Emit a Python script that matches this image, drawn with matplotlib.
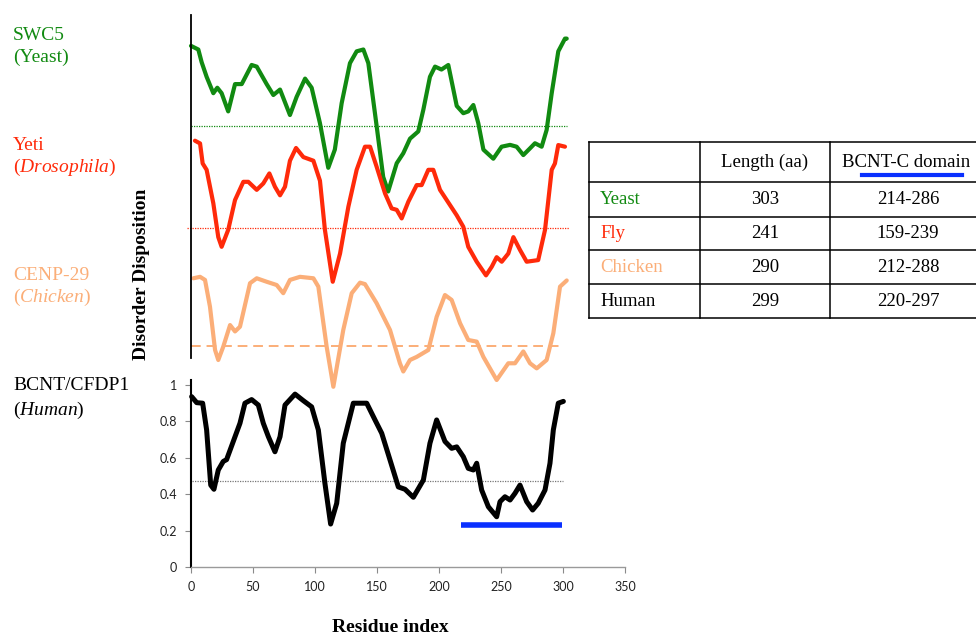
import matplotlib
matplotlib.use("Agg")
import matplotlib.pyplot as plt
from matplotlib.lines import Line2D

plt.rcParams['mathtext.fontset'] = 'custom'
plt.rcParams['mathtext.rm'] = 'Liberation Serif'
plt.rcParams['mathtext.it'] = 'Liberation Serif:italic'

# ---------------- data ----------------
yeast_res = [0, 5.9, 8.6, 12.6, 18, 21.2, 24.7, 30, 35.5, 40.9, 48.9, 53, 61, 66.4, 71.8, 79.8, 85.2, 92, 97.3, 104,
             110.7, 116, 121.5, 128.2, 133.6, 139, 143, 149.7, 155, 159, 165.9, 171.2, 176.6, 183.3, 187.4, 192.7,
             196.8, 202, 207.5, 214.3, 219.6, 223.6, 227.7, 231.7, 235.8, 243.8, 250.5, 257.3, 262.6, 268, 273.4,
             277.4, 282.8, 286.8, 290.9, 296.2, 301.6, 303]
yeast_val = [0.94, 0.92, 0.85, 0.77, 0.68, 0.71, 0.68, 0.58, 0.73, 0.73, 0.835, 0.826, 0.73, 0.67, 0.70, 0.56, 0.66,
             0.76, 0.71, 0.515, 0.27, 0.37, 0.625, 0.845, 0.91, 0.92, 0.845, 0.50, 0.22, 0.14, 0.295, 0.35, 0.43,
             0.47, 0.59, 0.77, 0.826, 0.81, 0.835, 0.61, 0.57, 0.58, 0.615, 0.515, 0.37, 0.32, 0.386, 0.396, 0.386,
             0.34, 0.377, 0.405, 0.386, 0.478, 0.68, 0.91, 0.98, 0.98]

fly_res = [3.2, 7.3, 9.4, 12.6, 18, 22, 24.7, 30, 35.5, 42.2, 46.2, 53, 58.3, 63.2, 67.7, 71.8, 75.8, 79.8, 84.7, 90.6,
           98.7, 104, 108, 114.3, 120.2, 126.9, 133.6, 140.3, 144.4, 149.7, 156.5, 161.8, 165.9, 169.9, 175.3, 182,
           186, 191.4, 195.4, 200.8, 206.2, 214.3, 219.6, 223.6, 230.4, 237.9, 242.5, 246.5, 250.6, 255.9, 260,
           265.3, 270.7, 280, 285.5, 290.9, 293.5, 296.2, 301.6]
fly_val = [0.98, 0.965, 0.855, 0.82, 0.636, 0.45, 0.397, 0.49, 0.654, 0.754, 0.754, 0.71, 0.745, 0.80, 0.727, 0.68,
           0.727, 0.87, 0.94, 0.89, 0.87, 0.76, 0.49, 0.205, 0.36, 0.617, 0.82, 0.947, 0.947, 0.837, 0.69, 0.608,
           0.6, 0.553, 0.645, 0.736, 0.736, 0.82, 0.82, 0.71, 0.654, 0.57, 0.507, 0.397, 0.315, 0.24, 0.287, 0.34,
           0.315, 0.36, 0.45, 0.38, 0.315, 0.324, 0.49, 0.82, 0.855, 0.956, 0.947]

chicken_res = [1.9, 7.3, 11.3, 15.3, 19.4, 22, 26, 31.5, 35.5, 39.5, 47.6, 53, 61, 69.1, 74.4, 79.8, 87.9, 98.7, 102.7,
               109.4, 114.8, 122.8, 129.6, 136.3, 140.3, 149.7, 160.5, 168.5, 171.2, 176.6, 182, 191.4, 198.1, 204.8,
               210.2, 217, 223.6, 230.4, 235.8, 246.5, 255.9, 261.3, 268, 273.4, 278.8, 286.8, 292.2, 297.6, 303]
chicken_val = [0.872, 0.88, 0.863, 0.716, 0.478, 0.423, 0.496, 0.615, 0.58, 0.606, 0.845, 0.872, 0.853, 0.835, 0.79,
               0.863, 0.88, 0.872, 0.826, 0.496, 0.276, 0.588, 0.79, 0.848, 0.84, 0.735, 0.588, 0.405, 0.36, 0.423,
               0.44, 0.478, 0.66, 0.78, 0.753, 0.625, 0.533, 0.524, 0.44, 0.313, 0.405, 0.405, 0.47, 0.405, 0.377,
               0.423, 0.57, 0.826, 0.86]

human_res = [0.5, 4.6, 9.4, 12.6, 15.9, 18.5, 22, 26, 28.7, 34.1, 39.5, 43.5, 48.9, 54.3, 58.3, 62.4, 67.7, 71.8, 75.8,
             83.9, 90.6, 97.3, 102.7, 108, 112.6, 117.5, 122.8, 130.9, 141.7, 148.4, 153.8, 160.5, 167.2, 172.6,
             179.3, 187.4, 192.7, 198.1, 204.8, 210.2, 214.3, 219.6, 223.6, 227.7, 230.4, 234.4, 239.8, 246.5, 249.2,
             253.2, 257.3, 261.3, 265.3, 270.7, 275.5, 280, 285.5, 289.5, 292.2, 296.2, 300.3]
human_val = [0.936, 0.903, 0.9, 0.753, 0.45, 0.427, 0.533, 0.58, 0.59, 0.69, 0.79, 0.9, 0.92, 0.89, 0.79, 0.716, 0.633,
             0.716, 0.89, 0.95, 0.914, 0.88, 0.753, 0.46, 0.236, 0.35, 0.68, 0.9, 0.9, 0.808, 0.735, 0.588, 0.44,
             0.427, 0.383, 0.478, 0.68, 0.808, 0.69, 0.652, 0.66, 0.606, 0.542, 0.533, 0.57, 0.423, 0.331, 0.276,
             0.359, 0.386, 0.368, 0.405, 0.45, 0.359, 0.313, 0.35, 0.423, 0.57, 0.753, 0.9, 0.91]

thresholds = {'yeast': 0.5, 'fly': 0.5, 'chicken': 0.5, 'human': 0.475}
threshold_span = [0, 303]
bcnt_domain_human = [218, 299]
bcnt_bar_level = 0.23

table_species = ['Yeast', 'Fly', 'Chicken', 'Human']
table_length = ['303', '241', '290', '299']
table_domain = ['214-286', '159-239', '212-288', '220-297']
table_header = ['', 'Length (aa)', 'BCNT-C domain']

x_ticks = [0, 50, 100, 150, 200, 250, 300, 350]
y_ticks = [0, 0.2, 0.4, 0.6, 0.8, 1]
y_tick_labels = ['0', '0.2', '0.4', '0.6', '0.8', '1']

# ---------------- styles ----------------
GREEN = '#118a11'
RED = '#ff2a0a'
ORANGE = '#fbae78'
BLACK = '#000000'
BLUE = '#0a30ff'
SERIF = 'Liberation Serif'

W, H = 976, 635
fig = plt.figure(figsize=(W / 100, H / 100), dpi=100)

def fx(px):
    return px / W

def fy(py):
    return 1 - py / H

# offsets (in disorder units) of the stacked profiles in the top panel
offsets = {'yeast': 0.775, 'fly': 0.214, 'chicken': -0.434}

# top panel
ax_top = fig.add_axes([fx(191), fy(358), fx(625) - fx(191), fy(15) - fy(358)])
ax_top.set_xlim(0, 350)
ax_top.set_ylim(0, 343 / 182)
for s in ['top', 'right', 'bottom']:
    ax_top.spines[s].set_visible(False)
ax_top.spines['left'].set_linewidth(1.3)
ax_top.set_xticks([])
ax_top.set_yticks([])
ax_top.patch.set_alpha(0)

def shifted(vals, off):
    return [v + off for v in vals]

# thresholds
ax_top.plot(threshold_span, [thresholds['yeast'] + offsets['yeast']] * 2, color=GREEN, lw=0.9, ls=(0, (1, 1)), clip_on=False)
ax_top.plot([-3, 305], [thresholds['fly'] + offsets['fly']] * 2, color=RED, lw=0.9, ls=(0, (1, 1)), clip_on=False)
ax_top.plot([0, 300], [thresholds['chicken'] + offsets['chicken']] * 2, color=ORANGE, lw=1.4, ls=(0, (5, 3)), clip_on=False)

ax_top.plot(yeast_res, shifted(yeast_val, offsets['yeast']), color=GREEN, lw=3.0, clip_on=False, solid_joinstyle='round', solid_capstyle='round')
ax_top.plot(fly_res, shifted(fly_val, offsets['fly']), color=RED, lw=3.0, clip_on=False, solid_joinstyle='round', solid_capstyle='round')
ax_top.plot(chicken_res, shifted(chicken_val, offsets['chicken']), color=ORANGE, lw=3.0, clip_on=False, solid_joinstyle='round', solid_capstyle='round')

# bottom panel (human)
ax = fig.add_axes([fx(191), fy(567), fx(625) - fx(191), fy(380) - fy(567)])
ax.set_xlim(0, 350)
ax.set_ylim(0, 187 / 182)
ax.spines['top'].set_visible(False)
ax.spines['right'].set_visible(False)
ax.spines['left'].set_linewidth(1.5)
ax.spines['bottom'].set_color('#9a9a9a')
ax.spines['bottom'].set_linewidth(1.0)
ax.patch.set_alpha(0)
ax.set_xticks(x_ticks)
ax.set_xticklabels([str(t) for t in x_ticks])
ax.set_yticks(y_ticks)
ax.set_yticklabels(y_tick_labels)
ax.tick_params(axis='both', colors='#8a8a8a', labelcolor='#222222', labelsize=9, length=4, width=0.8, direction='out')
ax.tick_params(axis='x', pad=6)
ax.tick_params(axis='y', pad=6)
for lab in ax.get_xticklabels() + ax.get_yticklabels():
    lab.set_fontfamily('Lato')

ax.plot([0.5, 300], [thresholds['human']] * 2, color='#777777', lw=0.9, ls=(0, (1, 1)))
ax.plot(human_res, human_val, color=BLACK, lw=3.6, solid_joinstyle='round', solid_capstyle='round', clip_on=False)
ax.plot(bcnt_domain_human, [bcnt_bar_level] * 2, color=BLUE, lw=4.0, solid_capstyle='butt')

# axis titles
fig.text(fx(141), fy(274), 'Disorder Disposition', rotation=90, ha='center', va='center',
         family=SERIF, fontweight='bold', fontsize=14)
fig.text(fx(390), fy(627), 'Residue index', ha='center', va='center',
         family=SERIF, fontweight='bold', fontsize=14)

# left labels
lab_fs = 14
fig.text(fx(13), fy(40), 'SWC5', color=GREEN, family=SERIF, fontsize=lab_fs, va='baseline')
fig.text(fx(13), fy(62), '(Yeast)', color=GREEN, family=SERIF, fontsize=lab_fs, va='baseline')
fig.text(fx(13), fy(150), 'Yeti', color=RED, family=SERIF, fontsize=lab_fs, va='baseline')
fig.text(fx(13), fy(172), r'$\mathrm{(}\mathit{Drosophila}\mathrm{)}$', color=RED, family=SERIF, fontsize=lab_fs, va='baseline')
fig.text(fx(13), fy(280), 'CENP-29', color=ORANGE, family=SERIF, fontsize=lab_fs, va='baseline')
fig.text(fx(13), fy(302), r'$\mathrm{(}\mathit{Chicken}\mathrm{)}$', color=ORANGE, family=SERIF, fontsize=lab_fs, va='baseline')
fig.text(fx(13), fy(390), 'BCNT/CFDP1', color=BLACK, family=SERIF, fontsize=lab_fs, va='baseline')
fig.text(fx(13), fy(415), r'$\mathrm{(}\mathit{Human}\mathrm{)}$', color=BLACK, family=SERIF, fontsize=lab_fs, va='baseline')

# table
row_edges = [142, 182, 217, 250, 284, 318]
col_edges = [589, 700, 830, 980]
tlw = 1.1
for ry in row_edges:
    fig.add_artist(Line2D([fx(col_edges[0]), fx(col_edges[-1])], [fy(ry), fy(ry)], color='black', lw=tlw))
for cx in col_edges:
    fig.add_artist(Line2D([fx(cx), fx(cx)], [fy(row_edges[0]), fy(row_edges[-1])], color='black', lw=tlw))

tfs = 13.5
fig.text(fx(765), fy(162), table_header[1], ha='center', va='center', family=SERIF, fontsize=tfs)
fig.text(fx(906), fy(162), table_header[2], ha='center', va='center', family=SERIF, fontsize=tfs)
fig.add_artist(Line2D([fx(862), fx(962)], [fy(175), fy(175)], color=BLUE, lw=3.0))
species_colors = [GREEN, RED, ORANGE, BLACK]
for i, (sp, ln, dm) in enumerate(zip(table_species, table_length, table_domain)):
    cy = (row_edges[i + 1] + row_edges[i + 2]) / 2
    fig.text(fx(600), fy(cy), sp, ha='left', va='center', family=SERIF, fontsize=tfs, color=species_colors[i])
    fig.text(fx(765), fy(cy), ln, ha='center', va='center', family=SERIF, fontsize=tfs)
    fig.text(fx(908), fy(cy), dm, ha='center', va='center', family=SERIF, fontsize=tfs)

fig.savefig('out.png', dpi=100)
